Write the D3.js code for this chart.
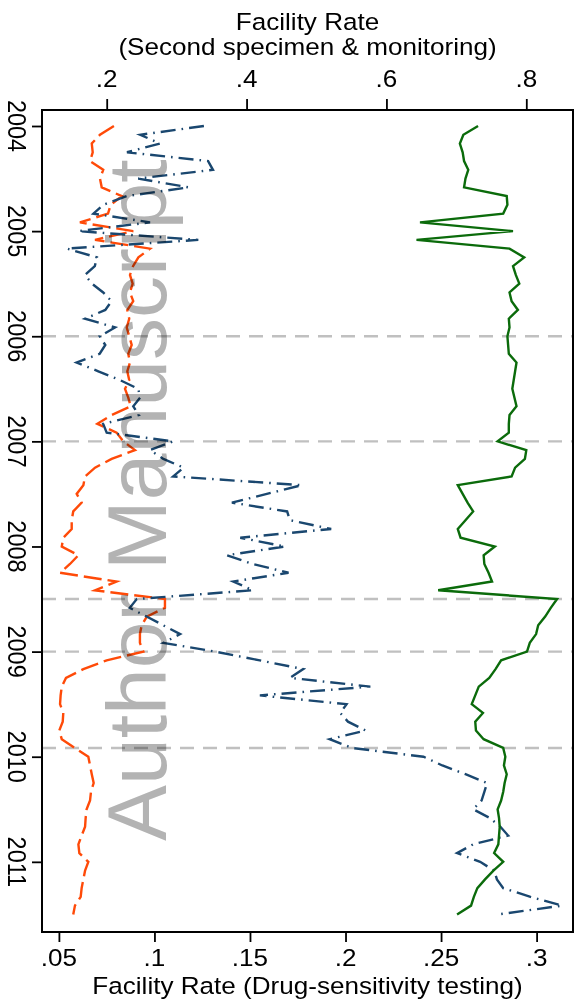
<!DOCTYPE html>
<html><head><meta charset="utf-8">
<script src="https://cdn.jsdelivr.net/npm/d3@7"></script>
<style>body{margin:0;background:#fff} svg{display:block}</style>
</head><body>
<script>
// Monthly series, January 2004 to July 2011 (91 months)
const startYear = 2004;
const monthCount = 91;

// Bottom axis: Facility rate (Drug-sensitivity testing)
const drugSensitivity = [
  0.0788, 0.0715, 0.0672, 0.0677, 0.0663, 0.0732, 0.0715, 0.0724, 0.0829, 0.0771,
  0.0757, 0.0610, 0.0889, 0.0689, 0.0977, 0.0916, 0.0888, 0.0872, 0.0886, 0.0872,
  0.0889, 0.0858, 0.0868, 0.0855, 0.0868, 0.0881, 0.0863, 0.0872, 0.0858, 0.0868,
  0.0846, 0.0863, 0.0876, 0.0776, 0.0701, 0.0802, 0.0837, 0.0898, 0.0776, 0.0689,
  0.0637, 0.0628, 0.0593, 0.0619, 0.0575, 0.0567, 0.0567, 0.0523, 0.0515, 0.0602,
  0.0558, 0.0506, 0.0802, 0.0689, 0.1055, 0.1055, 0.0960, 0.0933, 0.0924, 0.0924,
  0.0942, 0.0750, 0.0628, 0.0537, 0.0515, 0.0509, 0.0506, 0.0523, 0.0520, 0.0502,
  0.0515, 0.0584, 0.0654, 0.0663, 0.0672, 0.0682, 0.0668, 0.0663, 0.0645, 0.0640,
  0.0637, 0.0619, 0.0602, 0.0607, 0.0654, 0.0637, 0.0628, 0.0619, 0.0614, 0.0584, 0.0575
];

// Top axis: Facility rate (Second specimen)
const secondSpecimen = [
  0.339, 0.248, 0.276, 0.229, 0.345, 0.352, 0.245, 0.317, 0.229, 0.195,
  0.181, 0.262, 0.159, 0.331, 0.143, 0.186, 0.183, 0.169, 0.179, 0.195,
  0.207, 0.198, 0.169, 0.212, 0.190, 0.198, 0.190, 0.157, 0.188, 0.219,
  0.245, 0.248, 0.238, 0.246, 0.195, 0.200, 0.295, 0.262, 0.281, 0.310,
  0.295, 0.479, 0.429, 0.379, 0.458, 0.462, 0.521, 0.391, 0.455, 0.372,
  0.409, 0.460, 0.381, 0.409, 0.243, 0.233, 0.257, 0.281, 0.305, 0.281,
  0.355, 0.419, 0.481, 0.462, 0.577, 0.419, 0.543, 0.534, 0.545, 0.570,
  0.519, 0.551, 0.653, 0.680, 0.713, 0.744, 0.740, 0.736, 0.724, 0.748,
  0.763, 0.774, 0.724, 0.701, 0.734, 0.754, 0.758, 0.767, 0.806, 0.851, 0.760
];

// Top axis: Facility rate (Monitoring)
const monitoring = [
  0.731, 0.710, 0.705, 0.709, 0.711, 0.717, 0.713, 0.711, 0.772, 0.773,
  0.767, 0.648, 0.781, 0.643, 0.776, 0.797, 0.781, 0.785, 0.790, 0.776,
  0.779, 0.788, 0.775, 0.776, 0.773, 0.774, 0.775, 0.786, 0.784, 0.782,
  0.780, 0.783, 0.786, 0.776, 0.775, 0.775, 0.759, 0.800, 0.798, 0.784,
  0.779, 0.702, 0.709, 0.716, 0.724, 0.713, 0.702, 0.706, 0.755, 0.739,
  0.740, 0.746, 0.751, 0.674, 0.844, 0.835, 0.827, 0.817, 0.814, 0.805,
  0.801, 0.764, 0.756, 0.747, 0.732, 0.727, 0.722, 0.738, 0.727, 0.728,
  0.739, 0.767, 0.770, 0.768, 0.772, 0.769, 0.767, 0.764, 0.759, 0.761,
  0.762, 0.761, 0.760, 0.754, 0.767, 0.753, 0.741, 0.730, 0.725, 0.721, 0.701
];

const yearTicks = [2004, 2005, 2006, 2007, 2008, 2009, 2010, 2011];
const bottomTicks = [0.05, 0.1, 0.15, 0.2, 0.25, 0.3];
const topTicks = [0.2, 0.4, 0.6, 0.8];
const bottomTickLabels = [".05", ".1", ".15", ".2", ".25", ".3"];
const topTickLabels = [".2", ".4", ".6", ".8"];
const referenceLines = [2006, 2007, 2008 + 6/12, 2009, 2009 + 11/12];

const topTitle = ["Facility Rate", "(Second specimen & monitoring)"];
const bottomTitle = "Facility Rate (Drug-sensitivity testing)";
const watermark = "Author Manuscript";

// ---------- layout ----------
const W = 577, H = 1004;
const frame = {left: 42, right: 573, top: 110, bottom: 932};
const FONT = "'Liberation Sans', Arial, Helvetica, sans-serif";
const FS = 23.5, SX = 1.11;

const months = d3.range(monthCount).map(i => startYear + i / 12);

const y = d3.scaleLinear().domain([2004, 2011.5]).range([126, 914.4]);
const xBottom = d3.scaleLinear().domain([0.05, 0.3]).range([58.9, 536.6]);
const xTop = d3.scaleLinear().domain([0.2, 0.8]).range([106.7, 526.3]);

const svg = d3.select("body").append("svg").attr("width", W).attr("height", H)
  .style("font-family", FONT);

// reference lines
svg.append("g").selectAll("line").data(referenceLines).join("line")
  .attr("x1", frame.left).attr("x2", frame.right)
  .attr("y1", d => y(d)).attr("y2", d => y(d))
  .attr("stroke", "#c0c0c0").attr("stroke-width", 2.4)
  .attr("stroke-dasharray", "14,9");

// series lines
const series = [
  {values: drugSensitivity, x: xBottom, color: "#ff4a08", dash: "18,6"},
  {values: secondSpecimen, x: xTop, color: "#1a476f", dash: "15,6,1.6,6"},
  {values: monitoring, x: xTop, color: "#0b6b0b", dash: null}
];
series.forEach(s => {
  const line = d3.line().x(d => s.x(d[1])).y(d => y(d[0]));
  svg.append("path")
    .datum(months.map((m, i) => [m, s.values[i]]))
    .attr("d", line)
    .attr("fill", "none")
    .attr("stroke", s.color)
    .attr("stroke-width", 2.4)
    .attr("stroke-linejoin", "miter")
    .attr("stroke-dasharray", s.dash);
});

// watermark
svg.append("text")
  .attr("transform", "translate(166,841) rotate(-90)")
  .attr("font-size", 84)
  .attr("fill", "#b3b3b3")
  .style("mix-blend-mode", "multiply")
  .text(watermark);

// frame
svg.append("rect")
  .attr("x", frame.left).attr("y", frame.top)
  .attr("width", frame.right - frame.left).attr("height", frame.bottom - frame.top)
  .attr("fill", "none").attr("stroke", "#000").attr("stroke-width", 2);

// axes (ticks only)
function styleAxis(g) {
  g.select(".domain").remove();
  g.selectAll(".tick line").attr("stroke", "#000").attr("stroke-width", 1.8);
  g.selectAll(".tick text").remove();
}
svg.append("g").attr("transform", `translate(0,${frame.top})`)
  .call(d3.axisTop(xTop).tickValues(topTicks).tickSize(11)).call(styleAxis);
svg.append("g").attr("transform", `translate(0,${frame.bottom})`)
  .call(d3.axisBottom(xBottom).tickValues(bottomTicks).tickSize(10)).call(styleAxis);
svg.append("g").attr("transform", `translate(${frame.left},0)`)
  .call(d3.axisLeft(y).tickValues(yearTicks).tickSize(10)).call(styleAxis);

function label(x, yy, txt, extra) {
  svg.append("text")
    .attr("transform", `translate(${x},${yy}) scale(${SX},1)` + (extra || ""))
    .attr("text-anchor", "middle")
    .attr("font-size", FS)
    .attr("fill", "#000")
    .text(txt);
}

topTicks.forEach((t, i) => label(xTop(t), 87, topTickLabels[i]));
bottomTicks.forEach((t, i) => label(xBottom(t), 966, bottomTickLabels[i]));
yearTicks.forEach(t => label(8, y(t), String(t), " rotate(90)"));

const cx = (frame.left + frame.right) / 2;
label(cx, 30, topTitle[0]);
label(cx, 55, topTitle[1]);
label(cx, 994, bottomTitle);
</script>
</body></html>
